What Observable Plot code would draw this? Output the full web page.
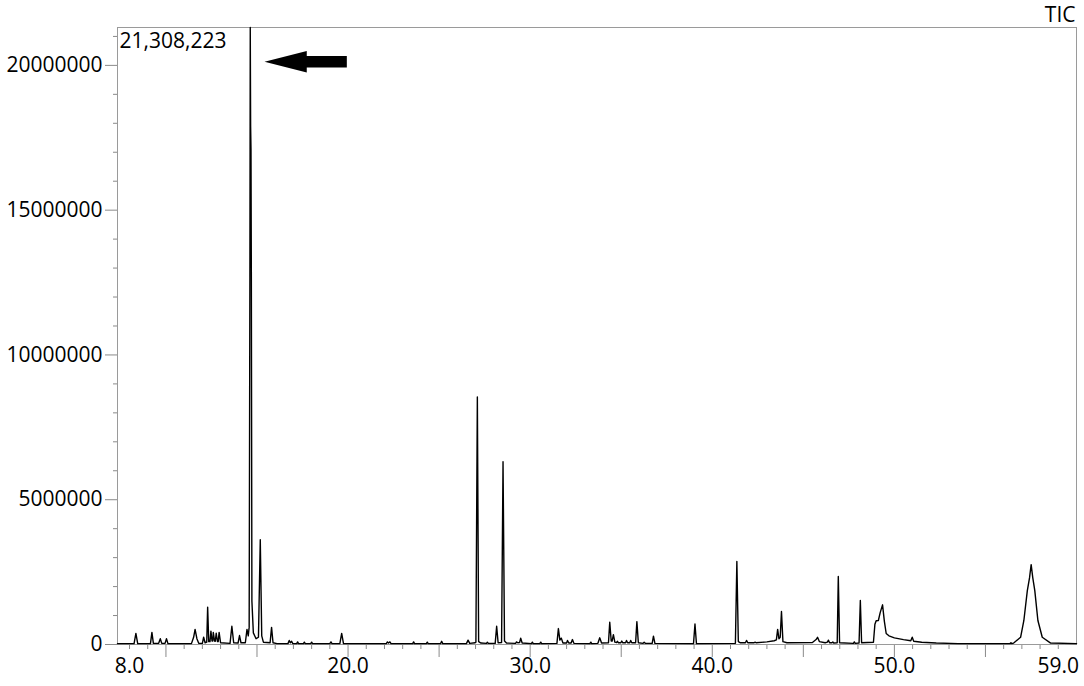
<!DOCTYPE html>
<html>
<head>
<meta charset="utf-8">
<script src="https://cdn.jsdelivr.net/npm/d3@7"></script>
<script src="https://cdn.jsdelivr.net/npm/@observablehq/plot@0.6"></script>
<style>
  html, body { margin: 0; padding: 0; background: #fff; }
  #chart { width: 1084px; height: 686px; }
</style>
</head>
<body>
<div id="chart"></div>
<script>
// Retention time (min) of each trace vertex
const retentionTime = [
  7.34, 8.25, 8.35, 8.45, 9.15, 9.23, 9.31, 9.6, 9.69, 9.77, 9.95, 10.03, 10.11,
  11.4, 11.52, 11.6, 11.7, 11.8, 12.0, 12.07, 12.15, 12.24, 12.29, 12.35, 12.42, 12.47,
  12.53, 12.57, 12.6, 12.67, 12.71, 12.76, 12.83, 12.87, 12.92, 13.0, 13.52, 13.62, 13.72,
  13.96, 14.04, 14.12, 14.36, 14.45, 14.52, 14.57, 14.61, 14.63, 14.65, 14.67, 14.69, 14.72,
  14.8, 14.95, 15.08, 15.18, 15.26, 15.35, 15.72, 15.8, 15.88, 16.1,
  16.7, 16.77, 16.83, 16.9, 16.97, 17.18, 17.23, 17.28, 17.55, 17.6, 17.65, 17.95, 18.0, 18.05,
  19.0, 19.06, 19.12, 19.55, 19.65, 19.75,
  22.1, 22.16, 22.22, 22.3, 22.36, 23.55, 23.6, 23.65, 24.3, 24.35, 24.4, 25.08, 25.14, 25.2,
  26.5, 26.59, 26.68, 26.98, 27.02, 27.1, 27.17, 27.3, 27.6, 27.65, 27.7,
  28.08, 28.16, 28.24, 28.43, 28.51, 28.59, 28.7, 29.2, 29.25, 29.32, 29.42, 29.48, 29.56,
  30.07, 30.12, 30.17, 30.53, 30.58, 30.63, 31.47, 31.55, 31.63, 31.71, 31.8,
  32.0, 32.05, 32.12, 32.25, 32.32, 32.4, 33.28, 33.33, 33.38, 33.72, 33.82, 33.92,
  34.3, 34.37, 34.45, 34.5, 34.57, 34.65, 34.74, 34.79, 34.85, 34.98, 35.03, 35.09,
  35.24, 35.29, 35.35, 35.47, 35.52, 35.58, 35.79, 35.86, 35.94, 36.2, 36.26, 36.32,
  36.7, 36.77, 36.85, 38.97, 39.05, 39.13,
  41.27, 41.35, 41.43, 41.55, 41.82, 41.88, 41.95, 42.3, 42.35, 42.4,
  43.0, 43.4, 43.52, 43.59, 43.66, 43.73, 43.8, 43.88, 44.1,
  45.5, 45.7, 45.78, 45.88, 46.2, 46.32, 46.38, 46.44, 46.57, 46.62, 46.67,
  46.86, 46.92, 46.99, 47.75, 47.8, 47.85, 48.06, 48.13, 48.2,
  48.85, 48.93, 49.0, 49.12, 49.22, 49.35, 49.45, 49.55, 49.7, 50.0, 50.5, 50.9, 50.98, 51.06,
  51.5, 52.3, 53.5, 56.35, 56.4, 56.45,
  56.55, 56.93, 57.11, 57.3, 57.42, 57.51, 57.6, 57.71, 57.88, 58.12, 58.58, 60.0
];
// Total ion current (counts) at each vertex
const intensity = [
  30000, 30000, 380000, 30000, 30000, 420000, 40000, 40000, 200000, 40000, 40000, 200000, 30000,
  30000, 250000, 520000, 200000, 40000, 40000, 250000, 60000, 80000, 1290000, 100000, 100000, 460000,
  120000, 120000, 420000, 120000, 110000, 390000, 100000, 100000, 420000, 60000, 40000, 630000, 60000,
  50000, 310000, 60000, 60000, 520000, 300000, 600000, 12700000, 21308223, 17900000, 17100000, 12700000, 1500000,
  400000, 200000, 250000, 3620000, 300000, 80000, 60000, 590000, 60000, 30000,
  30000, 140000, 60000, 110000, 30000, 30000, 90000, 30000, 30000, 80000, 30000, 30000, 80000, 30000,
  30000, 90000, 30000, 30000, 380000, 30000,
  30000, 90000, 50000, 90000, 30000, 30000, 90000, 30000, 30000, 80000, 30000, 30000, 110000, 30000,
  30000, 150000, 40000, 60000, 80000, 8550000, 100000, 50000, 40000, 80000, 40000,
  40000, 630000, 60000, 70000, 6310000, 120000, 50000, 40000, 90000, 60000, 70000, 220000, 50000,
  30000, 80000, 30000, 30000, 80000, 30000, 40000, 550000, 150000, 220000, 50000,
  50000, 140000, 50000, 50000, 170000, 40000, 30000, 80000, 30000, 40000, 230000, 50000,
  60000, 770000, 120000, 120000, 340000, 80000, 70000, 110000, 60000, 60000, 120000, 60000,
  60000, 140000, 60000, 60000, 140000, 60000, 60000, 790000, 60000, 40000, 80000, 40000,
  40000, 290000, 40000, 30000, 710000, 30000,
  40000, 2870000, 100000, 60000, 60000, 140000, 60000, 60000, 80000, 60000,
  90000, 130000, 160000, 520000, 200000, 250000, 1140000, 100000, 60000,
  70000, 170000, 250000, 100000, 60000, 80000, 150000, 60000, 60000, 90000, 50000,
  60000, 2350000, 60000, 40000, 90000, 40000, 50000, 1520000, 60000,
  80000, 700000, 820000, 830000, 1100000, 1370000, 800000, 380000, 300000, 230000, 170000, 130000, 250000, 110000,
  80000, 50000, 30000, 30000, 60000, 30000,
  50000, 250000, 830000, 1860000, 2300000, 2760000, 2300000, 1860000, 830000, 250000, 50000, 30000
];

// Axis ticks and labels
const yMajorTicks = [0, 5000000, 10000000, 15000000, 20000000];
const yMinorTicks = [1000000, 2000000, 3000000, 4000000, 6000000, 7000000, 8000000, 9000000,
  11000000, 12000000, 13000000, 14000000, 16000000, 17000000, 18000000, 19000000, 21000000];
const xLabelTicks = [8, 20, 30, 40, 50, 59];
const xMajorTicks = [10, 15, 20, 25, 30, 35, 40, 45, 50, 55];
const xMinorTicks = [8, 9, 11, 12, 13, 14, 16, 17, 18, 19, 21, 22, 23, 24, 26, 27, 28, 29,
  31, 32, 33, 34, 36, 37, 38, 39, 41, 42, 43, 44, 46, 47, 48, 49, 51, 52, 53, 54, 56, 57, 58, 59];

// Annotations
const maxIntensityLabel = "21,308,223";
const traceLabel = "TIC";
const arrowX = [15.44, 17.76, 17.76, 19.96];
const arrowLow = [20110000, 19740000, 19910000, 19910000];
const arrowHigh = [20110000, 20480000, 20310000, 20310000];

const trace = retentionTime.map((t, i) => ({rt: t, tic: intensity[i]}));
const arrow = arrowX.map((x, i) => ({x, lo: arrowLow[i], hi: arrowHigh[i]}));

const FONT = 21;
const chart = Plot.plot({
  width: 1084,
  height: 686,
  marginLeft: 117,
  marginRight: 8,
  marginTop: 27,
  marginBottom: 42,
  style: {fontFamily: "'Open Sans', 'Noto Sans', sans-serif", fontSize: FONT + "px", background: "#fff", color: "#000"},
  x: {domain: [7.34, 60.0], label: null},
  y: {domain: [0, 21308223], label: null},
  marks: [
    Plot.axisY({ticks: yMinorTicks, tickSize: 4, tickFormat: () => "", stroke: "#8a8a8a", label: null}),
    Plot.axisY({ticks: yMajorTicks, tickSize: 12, tickPadding: 3, tickFormat: d => String(d), stroke: "#8a8a8a", fill: "#000", fontSize: FONT, label: null}),
    Plot.axisX({ticks: xMinorTicks, tickSize: 5, tickFormat: () => "", stroke: "#8a8a8a", label: null}),
    Plot.axisX({ticks: xMajorTicks, tickSize: 13, tickFormat: () => "", stroke: "#8a8a8a", label: null}),
    Plot.axisX({ticks: xLabelTicks, tickSize: 0, tickPadding: 14, tickFormat: d => d.toFixed(1), fill: "#000", fontSize: FONT, label: null}),
    Plot.frame({stroke: "#9a9a9a", strokeWidth: 1}),
    Plot.line(trace, {x: "rt", y: "tic", stroke: "#000", strokeWidth: 1.4, curve: "linear"}),
    Plot.areaY(arrow, {x: "x", y1: "lo", y2: "hi", fill: "#000", curve: "linear"}),
    Plot.text([maxIntensityLabel], {frameAnchor: "top-left", text: d => d, dx: 2, dy: 6, lineAnchor: "top", textAnchor: "start", fontSize: FONT, fill: "#000"}),
    Plot.text([traceLabel], {frameAnchor: "top-right", text: d => d, dx: -1, dy: -6, lineAnchor: "bottom", textAnchor: "end", fontSize: FONT, fill: "#000"})
  ]
});
document.getElementById("chart").appendChild(chart);
</script>
</body>
</html>
